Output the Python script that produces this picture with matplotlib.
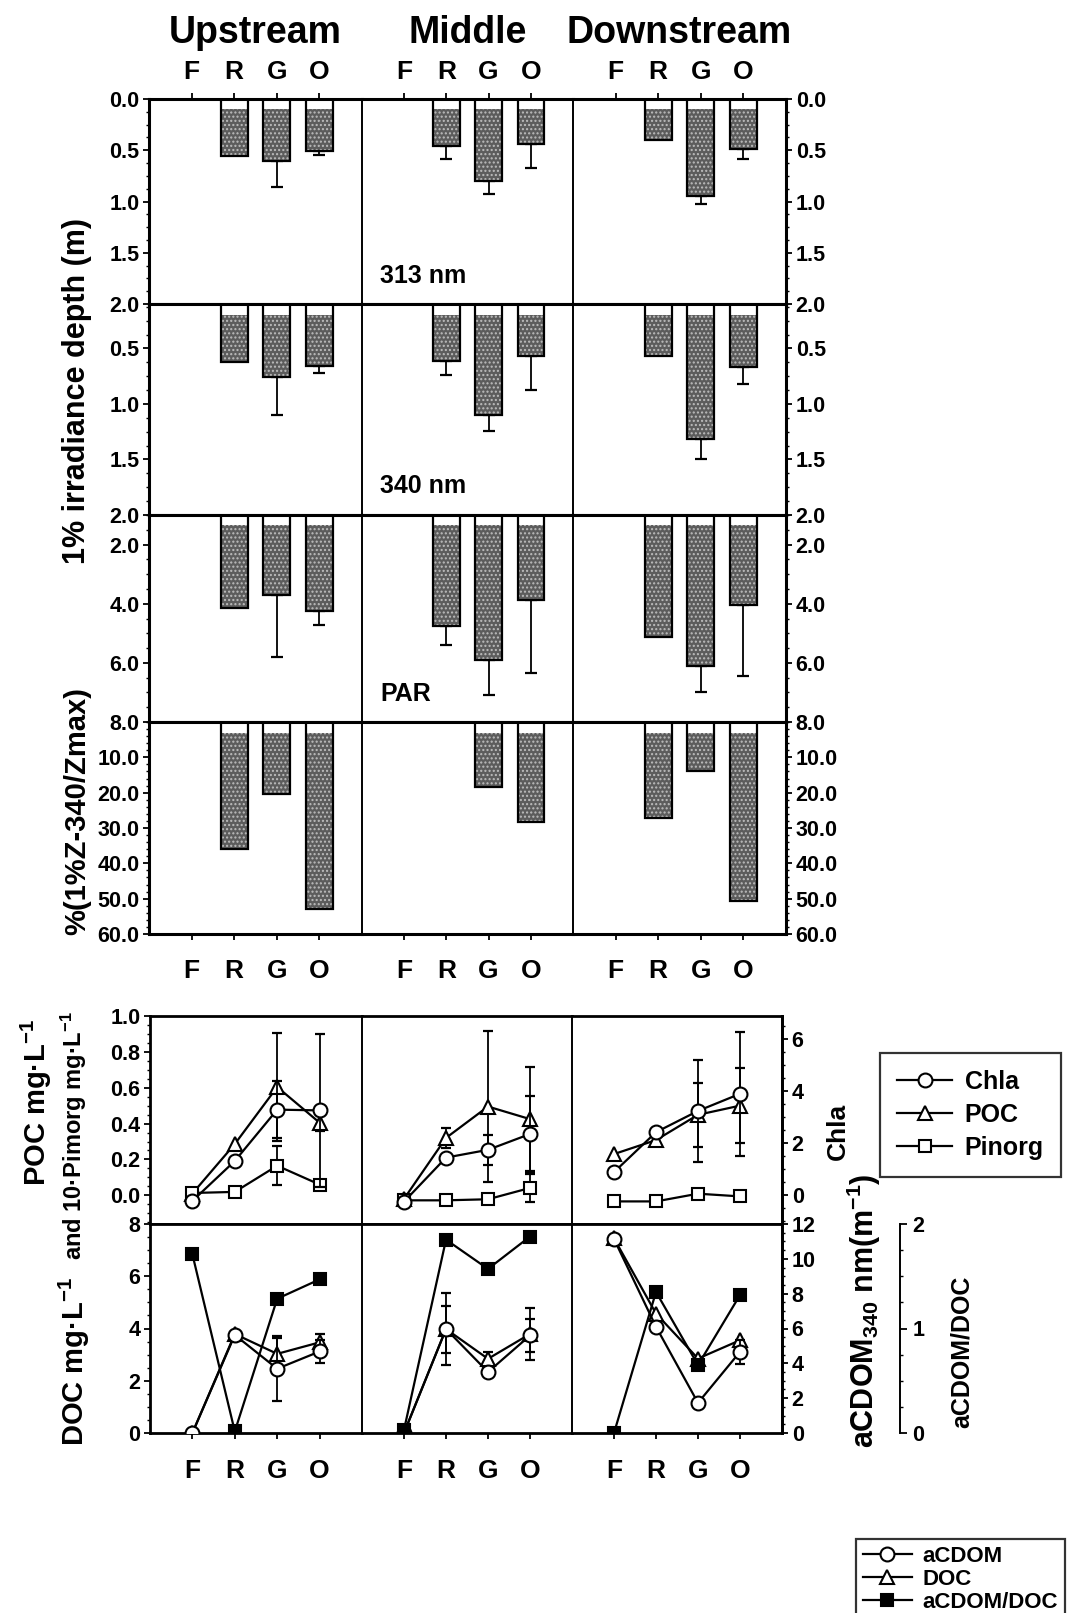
import numpy as np
import matplotlib
matplotlib.use('Agg')
import matplotlib.pyplot as plt
from matplotlib.ticker import AutoMinorLocator, FormatStrFormatter
from matplotlib.lines import Line2D
from matplotlib import font_manager

plt.rcParams['font.family'] = ['Liberation Sans', 'DejaVu Sans']
plt.rcParams['font.weight'] = 'bold'
plt.rcParams['mathtext.fontset'] = 'custom'
plt.rcParams['mathtext.rm'] = 'Liberation Sans:bold'
plt.rcParams['mathtext.it'] = 'Liberation Sans:italic:bold'
plt.rcParams['mathtext.bf'] = 'Liberation Sans:bold'
plt.rcParams['mathtext.default'] = 'rm'

nan = np.nan
sites = ['Upstream', 'Middle', 'Downstream']
cats = ['F', 'R', 'G', 'O']
xpos = [1, 2, 3, 4]

# 1% irradiance depths (m), one list per site (F R G O)
z313 = [[nan, 0.56, 0.60, 0.51], [nan, 0.455, 0.80, 0.44], [nan, 0.40, 0.95, 0.49]]
z313_err = [[0, 0, 0.26, 0.04], [0, 0.13, 0.13, 0.23], [0, 0, 0.07, 0.10]]
z340 = [[nan, 0.62, 0.76, 0.66], [nan, 0.61, 1.10, 0.57], [nan, 0.57, 1.32, 0.67]]
z340_err = [[0, 0, 0.34, 0.06], [0, 0.13, 0.14, 0.30], [0, 0, 0.18, 0.15]]
zpar = [[nan, 4.13, 3.7, 4.26], [nan, 4.76, 5.9, 3.87], [nan, 5.13, 6.1, 4.06]]
zpar_err = [[0, 0, 2.1, 0.45], [0, 0.64, 1.2, 2.48], [0, 0, 0.9, 2.4]]
pct340 = [[nan, 36.0, 20.4, 53.0], [nan, nan, 18.5, 28.4], [nan, 27.3, 13.8, 50.6]]

# particulate
chla = [[-0.23, 1.31, 3.29, 3.26], [-0.26, 1.44, 1.74, 2.35], [0.88, 2.42, 3.24, 3.9]]
chla_err = [[0, 0, 1.1, 2.95], [0, 0, 0.58, 1.48], [0, 0, 1.96, 2.38]]
poc = [[0.01, 0.286, 0.604, 0.405], [-0.02, 0.32, 0.495, 0.425], [0.23, 0.308, 0.449, 0.50]]
poc_err = [[0, 0, 0.30, 0.045], [0, 0.055, 0.42, 0.29], [0, 0, 0.18, 0.21]]
pinorg = [[0.013, 0.019, 0.165, 0.06], [-0.028, -0.028, -0.022, 0.041], [-0.034, -0.034, 0.009, -0.006]]
pinorg_err = [[0, 0, 0.11, 0], [0, 0, 0, 0.08], [0, 0, 0, 0]]

# dissolved
doc = [[0.0, 3.79, 3.03, 3.47], [0.0, 3.98, 2.84, 3.79], [7.45, 4.57, 2.85, 3.55]]
doc_err = [[0, 0, 0.6, 0.32], [0, 1.36, 0.25, 1.0], [0, 0, 0, 0]]
acdom = [[0.0, 5.63, 3.69, 4.68], [0.0, 5.97, 3.5, 5.6], [11.14, 6.1, 1.73, 4.66]]
acdom_err = [[0, 0, 1.87, 0.65], [0, 1.35, 0, 0.97], [0, 0, 0, 0.7]]
ratio = [[1.71, 0.015, 1.285, 1.47], [0.03, 1.85, 1.57, 1.88], [0.0, 1.35, 0.65, 1.32]]

W, H = 1091, 1613
fig = plt.figure(figsize=(W / 100, H / 100), dpi=100)

def box(x0, y0, x1, y1):
    return [x0 / W, 1 - y1 / H, (x1 - x0) / W, (y1 - y0) / H]

names = {f.name for f in font_manager.fontManager.ttflist}
if 'Liberation Sans Narrow' in names:
    tfont, tsize = 'Liberation Sans Narrow', 31
else:
    tfont, tsize = 'Liberation Sans', 27

colx = [149, 362, 573, 786]
rowy = [99, 304, 515, 722, 934]
lcolx = [150, 362, 572, 782]
lrowy = [1016, 1224, 1433]

gray = '#5c5c5c'
tick_fs = 15.5

bar_sets = [
    (z313, z313_err, (0.0, 2.0), [0.0, 0.5, 1.0, 1.5, 2.0], 4),
    (z340, z340_err, (0.1, 2.0), [0.5, 1.0, 1.5, 2.0], 4),
    (zpar, zpar_err, (1.0, 8.0), [2.0, 4.0, 6.0, 8.0], 4),
    (pct340, None, (0.0, 60.0), [10.0, 20.0, 30.0, 40.0, 50.0, 60.0], 5),
]

for r, (vals, errs, (top, bot), ticks, nminor) in enumerate(bar_sets):
    for c in range(3):
        ax = fig.add_axes(box(colx[c], rowy[r], colx[c + 1], rowy[r + 1]))
        ax.set_xlim(0, 5)
        ax.set_ylim(bot, top)
        white_end = top + 0.05 * (bot - top)
        v = np.array(vals[c], dtype=float)
        ax.bar(xpos, v - white_end, bottom=white_end, width=0.63, color=gray,
               linewidth=0, zorder=2)
        ax.bar(xpos, v - white_end, bottom=white_end, width=0.63, fill=False,
               hatch='....', edgecolor='#bdbdbd', linewidth=0, zorder=2.5)
        ax.bar(xpos, v - top, bottom=top, width=0.63, fill=False,
               edgecolor='black', linewidth=1.6, zorder=3)
        if errs is not None:
            e = np.array(errs[c], dtype=float)
            m = (e > 0) & ~np.isnan(v)
            ax.errorbar(np.array(xpos)[m], v[m], yerr=[np.zeros(m.sum()), e[m]],
                        fmt='none', ecolor='black', elinewidth=1.3, capsize=4,
                        capthick=1.6, zorder=1)
        for s in ax.spines.values():
            s.set_linewidth(2.2)
        if c > 0:
            ax.spines['left'].set_linewidth(1.4)
        if c < 2:
            ax.spines['right'].set_visible(False)
        ax.set_yticks(ticks)
        ax.yaxis.set_minor_locator(AutoMinorLocator(nminor))
        ax.yaxis.set_major_formatter(FormatStrFormatter('%.1f'))
        ax.tick_params(axis='y', which='both', direction='out', labelsize=tick_fs,
                       left=(c == 0), labelleft=(c == 0),
                       right=(c == 2), labelright=(c == 2))
        ax.tick_params(axis='y', which='major', length=4, width=1.3, pad=3)
        ax.tick_params(axis='y', which='minor', length=2.5, width=1.0)
        ax.set_xticks(xpos)
        if r == 0:
            ax.set_xticklabels(cats)
            ax.tick_params(axis='x', top=True, labeltop=True, bottom=False,
                           labelbottom=False, direction='out', length=4, width=1.3,
                           pad=7, labelsize=19)
        elif r == 3:
            ax.set_xticklabels(cats)
            ax.tick_params(axis='x', top=False, bottom=True, labelbottom=True,
                           direction='out', length=4, width=1.3, pad=14, labelsize=19)
        else:
            ax.tick_params(axis='x', bottom=False, labelbottom=False)
        if c == 1 and r < 3:
            ax.text(0.085, 0.137, ['313 nm', '340 nm', 'PAR'][r],
                    transform=ax.transAxes, fontsize=18, fontweight='bold', va='center')

for c in range(3):
    xc = (colx[c] + colx[c + 1]) / 2 / W
    fig.text(xc, 1 - 43 / H, sites[c], ha='center', va='baseline',
             family=[tfont, 'DejaVu Sans'], fontsize=tsize, fontweight='bold')

mk = dict(color='black', linewidth=1.6, markersize=10, markeredgecolor='black',
          markeredgewidth=1.5, zorder=4)

def errs(ax, y, e):
    y = np.array(y)
    e = np.array(e)
    m = e > 0
    if m.any():
        ax.errorbar(np.array(xpos)[m], y[m], yerr=e[m], fmt='none', ecolor='black',
                    elinewidth=1.3, capsize=3.5, capthick=1.6, zorder=3)

for r in range(2):
    for c in range(3):
        ax = fig.add_axes(box(lcolx[c], lrowy[r], lcolx[c + 1], lrowy[r + 1]))
        ax.set_xlim(0, 5)
        tw = ax.twinx()
        if r == 0:
            ax.set_ylim(-0.16, 1.0)
            tw.set_ylim(-1.12, 6.9)
            errs(ax, poc[c], poc_err[c])
            errs(ax, pinorg[c], pinorg_err[c])
            errs(tw, chla[c], chla_err[c])
            ax.plot(xpos, poc[c], marker='^', markerfacecolor='white', **mk)
            ax.plot(xpos, pinorg[c], marker='s', markerfacecolor='white',
                    **dict(mk, markersize=9))
            tw.plot(xpos, chla[c], marker='o', markerfacecolor='white', **mk)
            ax.set_yticks([0.0, 0.2, 0.4, 0.6, 0.8, 1.0])
            ax.yaxis.set_major_formatter(FormatStrFormatter('%.1f'))
            ax.yaxis.set_minor_locator(AutoMinorLocator(4))
            tw.set_yticks([0, 2, 4, 6])
            tw.yaxis.set_minor_locator(AutoMinorLocator(4))
        else:
            ax.set_ylim(0, 8)
            tw.set_ylim(0, 12)
            tw2 = ax.twinx()
            tw2.set_ylim(0, 2)
            errs(ax, doc[c], doc_err[c])
            errs(tw, acdom[c], acdom_err[c])
            ax.plot(xpos, doc[c], marker='^', markerfacecolor='white', **mk)
            tw.plot(xpos, acdom[c], marker='o', markerfacecolor='white', **mk)
            tw2.plot(xpos, ratio[c], marker='s', markerfacecolor='black',
                     **dict(mk, markersize=9))
            ax.set_yticks([0, 2, 4, 6, 8])
            ax.yaxis.set_minor_locator(AutoMinorLocator(4))
            tw.set_yticks([0, 2, 4, 6, 8, 10, 12])
            tw.yaxis.set_minor_locator(AutoMinorLocator(4))
            for s in tw2.spines.values():
                s.set_visible(False)
            if c == 2:
                tw2.spines['right'].set_visible(True)
                tw2.spines['right'].set_position(('axes', 1.562))
                tw2.spines['right'].set_linewidth(1.4)
                tw2.set_yticks([0, 1, 2])
                tw2.yaxis.set_minor_locator(AutoMinorLocator(4))
                tw2.tick_params(axis='y', which='both', direction='out', right=True,
                                labelright=True, labelsize=tick_fs)
                tw2.tick_params(axis='y', which='major', length=5, width=1.3, pad=4)
                tw2.tick_params(axis='y', which='minor', length=2.5, width=1.0)
            else:
                tw2.tick_params(axis='y', which='both', right=False, labelright=False)
        for s in list(ax.spines.values()) + list(tw.spines.values()):
            s.set_linewidth(2.0)
        if c > 0:
            ax.spines['left'].set_linewidth(1.4)
        for s in ['top', 'bottom', 'left']:
            tw.spines[s].set_visible(False)
        if c < 2:
            ax.spines['right'].set_visible(False)
            tw.spines['right'].set_visible(False)
        ax.tick_params(axis='y', which='both', direction='out', labelsize=tick_fs,
                       left=(c == 0), labelleft=(c == 0), right=False)
        ax.tick_params(axis='y', which='major', length=4, width=1.3, pad=3)
        ax.tick_params(axis='y', which='minor', length=2.5, width=1.0)
        tw.tick_params(axis='y', which='both', direction='out', labelsize=tick_fs,
                       right=(c == 2), labelright=(c == 2))
        tw.tick_params(axis='y', which='major', length=4, width=1.3, pad=3)
        tw.tick_params(axis='y', which='minor', length=2.5, width=1.0)
        ax.set_xticks(xpos)
        if r == 1:
            ax.set_xticklabels(cats)
            ax.tick_params(axis='x', bottom=True, labelbottom=True, direction='out',
                           length=4, width=1.3, pad=15, labelsize=19)
        else:
            ax.tick_params(axis='x', bottom=False, labelbottom=False)

# axis titles
fig.text(77 / W, 1 - 391 / H, '1% irradiance depth (m)', rotation=90,
         ha='center', va='center', fontsize=22, fontweight='bold')
fig.text(77 / W, 1 - 811 / H, '%(1%Z-340/Zmax)', rotation=90,
         ha='center', va='center', fontsize=21, fontweight='bold')
fig.text(36 / W, 1 - 1102 / H, 'POC mg·L$^{-1}$', rotation=90,
         ha='center', va='center', fontsize=21, fontweight='bold')
fig.text(74 / W, 1 - 1136 / H, 'and 10·Pimorg mg·L$^{-1}$', rotation=90,
         ha='center', va='center', fontsize=17, fontweight='bold')
fig.text(74 / W, 1 - 1362 / H, 'DOC mg·L$^{-1}$', rotation=90,
         ha='center', va='center', fontsize=21, fontweight='bold')
fig.text(838 / W, 1 - 1131 / H, 'Chla', rotation=90,
         ha='center', va='center', fontsize=19, fontweight='bold')
fig.text(864 / W, 1 - 1311 / H, 'aCDOM$_{340}$ nm(m$^{-1}$)', rotation=90,
         ha='center', va='center', fontsize=22, fontweight='bold')
fig.text(962 / W, 1 - 1352 / H, 'aCDOM/DOC', rotation=90,
         ha='center', va='center', fontsize=18, fontweight='bold')

lk = dict(color='black', linewidth=1.6, markersize=10, markeredgecolor='black',
          markeredgewidth=1.5)
h1 = [Line2D([], [], marker='o', markerfacecolor='white', **lk),
      Line2D([], [], marker='^', markerfacecolor='white', **lk),
      Line2D([], [], marker='s', markerfacecolor='white', **dict(lk, markersize=9))]
leg1 = fig.legend(h1, ['Chla', 'POC', 'Pinorg'], loc='upper left',
                  bbox_to_anchor=(867 / W, 1 - 1040 / H), fontsize=18,
                  frameon=True, fancybox=False, edgecolor='black',
                  handlelength=2.2, borderpad=0.7, labelspacing=0.35, handletextpad=0.5)
leg1.get_frame().set_linewidth(1.6)
h2 = [Line2D([], [], marker='o', markerfacecolor='white', **lk),
      Line2D([], [], marker='^', markerfacecolor='white', **lk),
      Line2D([], [], marker='s', markerfacecolor='black', **dict(lk, markersize=9))]
leg2 = fig.legend(h2, ['aCDOM', 'DOC', 'aCDOM/DOC'], loc='upper left',
                  bbox_to_anchor=(845 / W, 1 - 1528 / H), fontsize=16,
                  frameon=True, fancybox=False, edgecolor='black',
                  handlelength=2.2, borderpad=0.3, labelspacing=0.1, handletextpad=0.5)
leg2.get_frame().set_linewidth(1.6)

fig.savefig('out.png', dpi=100)
